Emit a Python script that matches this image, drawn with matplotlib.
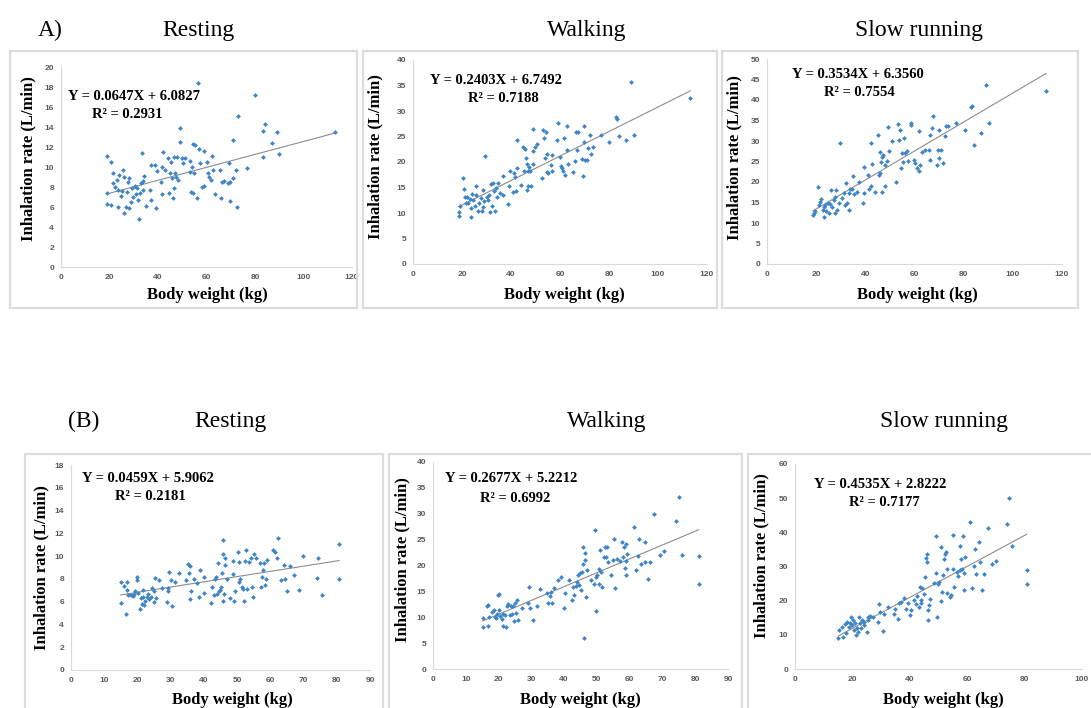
import numpy as np
import matplotlib
matplotlib.use("Agg")
import matplotlib.pyplot as plt
import matplotlib.patches as patches

plt.rcParams['font.family'] = ['Liberation Serif', 'DejaVu Serif']

W, H = 1091, 708

# ---- data (body weight kg, inhalation rate L/min) ----
# (A) Resting
a_rest_x = [19.1, 19.1, 19.1, 20.6, 20.6, 21.3, 21.6, 22.3, 23, 23.7, 23.7, 24, 24.6, 25, 25.7, 26, 26.1,
            26.8, 27.1, 27.5, 28, 28.2, 28.7, 29.2, 29.8, 30.5, 30.9, 31.2, 31.9, 32.3, 32.6, 33.1, 33.3,
            33.7, 34, 34.4, 35.1, 36.7, 37, 37.3, 38.8, 39.1, 39.5, 41.3, 41.6, 41.8, 42.2, 42.9, 44,
            44.6, 45, 45.3, 45.7, 46, 46.4, 46.4, 47, 47.5, 48, 48.4, 49.1, 49.1, 49.8, 50.2, 51.2, 53,
            53.2, 53.6, 54, 54.3, 54.6, 55, 55.3, 56, 56.3, 56.9, 57.4, 58.2, 59, 59, 60.1, 60.8, 61.2,
            61.8, 62.3, 62.6, 63.6, 65.6, 66, 66.4, 67.3, 68.9, 69.2, 69.5, 69.7, 71.1, 71.1, 72.2, 72.5,
            72.9, 76.6, 80.1, 83.1, 83.1, 84.2, 86.9, 89, 90, 113]
a_rest_y = [11.1, 7.4, 6.3, 10.5, 6.2, 9.4, 8.4, 8.0, 8.7, 7.7, 6.0, 9.2, 7.1, 7.6, 9.7, 9.0, 5.4,
            6.0, 7.5, 8.5, 5.9, 8.9, 6.5, 7.9, 7.0, 8.1, 7.3, 7.9, 6.7, 4.8, 7.4, 8.4, 11.4,
            7.7, 8.6, 9.1, 6.1, 7.7, 10.2, 6.7, 10.2, 5.9, 9.6, 8.5, 7.3, 10.0, 11.5, 9.7, 10.9,
            7.4, 9.4, 10.5, 8.9, 6.9, 7.9, 11.0, 9.4, 9.0, 11.0, 8.7, 13.9, 12.5, 10.9, 10.4, 10.9, 9.5,
            10.6, 7.5, 10.0, 12.3, 7.4, 9.4, 12.2, 6.9, 18.4, 11.8, 10.4, 8.0, 11.6, 8.1, 10.5, 9.4, 9.0,
            8.7, 11.1, 9.7, 7.3, 9.7, 6.9, 8.5, 8.6, 8.4, 10.4, 6.6, 8.5, 12.7, 8.9, 9.7, 6.0,
            15.1, 9.9, 17.2, 13.6, 11.0, 14.3, 12.4, 13.5, 11.3, 13.5]

# (A) Walking
a_walk_x = [18.7, 18.7, 19.1, 20.5, 20.9, 21.1, 21.6, 22.1, 22.5, 23.2, 23.5, 23.6, 24.1, 24.6, 25.2,
            25.6, 25.9, 26.6, 27, 27.6, 28, 28.4, 28.6, 28.9, 29.5, 30, 30.7, 31.1, 31.4, 31.8, 32.3,
            32.7, 33, 33.3, 33.8, 34.4, 34.8, 35.5, 36.6, 36.8, 38.9, 39.2, 39.6, 40.9, 41.2, 41.6, 42,
            42.3, 42.6, 44.1, 45, 45.3, 45.7, 46, 46.4, 46.7, 46.8, 47.1, 47.5, 47.7, 48, 48.8, 48.8,
            49.1, 49.8, 50.8, 52.5, 53.2, 53.5, 53.9, 54.3, 54.6, 54.8, 55.2, 56.2, 56.6, 56.8, 58.6,
            59.1, 60, 60.4, 61, 61.4, 61.8, 62.1, 62.8, 62.8, 63.4, 65.5, 66.2, 66.6, 67.1, 67.5, 68.9,
            69.3, 69.6, 69.6, 70.3, 71, 71.6, 72.3, 72.6, 73.3, 76.7, 80.2, 82.9, 83.2, 84.2, 87, 89.1,
            90, 113.2]
a_walk_y = [9.5, 10.1, 11.4, 16.8, 14.8, 13.2, 12.0, 13.2, 11.9, 12.7, 10.9, 9.2, 13.7, 12.5, 11.4,
            15.2, 13.5, 10.3, 11.9, 12.9, 10.3, 14.6, 11.2, 12.4, 21.2, 13.2, 12.5, 13.5, 10.1, 15.6, 11.4,
            15.9, 14.3, 10.3, 14.9, 13.2, 15.8, 13.9, 13.5, 17.3, 11.8, 15.3, 18.3, 14.2, 17.8, 17.1, 14.3,
            24.3, 18.8, 15.5, 23.0, 18.3, 22.5, 20.7, 14.6, 19.7, 18.3, 15.2, 19.1, 18.3, 15.2, 26.4, 22.2,
            19.7, 22.9, 23.5, 16.9, 26.3, 24.8, 20.7, 25.9, 18.1, 21.6, 17.8, 19.4, 21.4, 18.3, 24.4,
            27.7, 21.0, 19.2, 18.8, 18.3, 24.8, 17.5, 27.1, 22.4, 19.6, 18.0, 20.1, 25.8, 22.4, 25.9, 20.6,
            17.3, 27.1, 23.9, 20.3, 20.4, 22.7, 25.2, 21.6, 23.0, 25.2, 24.0, 28.8, 28.4, 25.1, 24.3, 35.6,
            25.3, 32.5]

# (A) Slow running
a_run_x = [18.7, 19, 19.7, 20.7, 21, 21.4, 22.1, 22.6, 23.1, 23.3, 23.7, 24.1, 24.8, 25.2, 25.6, 26,
           26.4, 27.1, 27.5, 27.8, 28, 28.6, 29.2, 29.7, 30.5, 31.2, 31.6, 32.1, 32.5, 33.2, 33.5, 33.9,
           34.6, 34.9, 35.3, 36.6, 37.3, 39, 39.3, 39.6, 41.1, 41.6, 42.2, 42.4, 42.7, 44.1, 45.2, 45.4,
           45.8, 46.1, 46.4, 46.6, 46.8, 47.2, 47.8, 48.1, 48.8, 49.1, 49.5, 50.8, 52.5, 53.4, 53.8, 54.2,
           54.6, 54.9, 55.3, 55.9, 56.3, 56.9, 57.4, 58.6, 58.7, 59.9, 60.3, 61, 61.7, 61.7, 62.4, 63,
           64.2, 65.8, 66.2, 66.4, 67.1, 67.4, 69.2, 69.6, 69.9, 70.1, 70.9, 71.5, 72.3, 72.8, 73.5, 76.9,
           80.4, 83.1, 83.4, 84.3, 87.1, 89.2, 90.2, 113.5]
a_run_y = [12.0, 12.4, 13.0, 18.7, 14.4, 15.2, 15.8, 13.2, 14.0, 11.4, 14.4, 13.0, 15.0, 12.4, 14.6, 18.0,
           14.0, 15.6, 16.3, 12.4, 18.0, 13.2, 14.8, 29.4, 16.1, 17.4, 14.4, 19.8, 14.8, 17.4, 13.2, 18.2,
           18.4, 21.5, 17.1, 17.6, 20.1, 14.8, 23.7, 17.4, 21.7, 18.2, 19.0, 29.6, 24.3, 17.6, 31.5, 21.7,
           27.4, 22.1, 24.8, 17.6, 26.1, 26.5, 19.1, 24.1, 25.2, 33.4, 27.5, 30.0, 19.9, 34.1, 30.2, 32.7,
           23.3, 27.0, 25.0, 30.7, 27.0, 27.6, 25.2, 34.5, 33.9, 25.4, 24.6, 23.3, 22.8, 32.5, 24.1, 27.4,
           27.8, 27.8, 31.5, 25.4, 33.1, 36.1, 24.1, 27.8, 32.8, 25.8, 27.8, 24.7, 31.1, 33.7, 33.7, 34.5,
           32.7, 38.2, 38.5, 29.0, 32.0, 43.7, 34.5, 42.3]

# (B) Resting
b_rest_x = [15, 15, 16.1, 16.6, 16.8, 16.8, 17.3, 18.1, 18.8, 19.1, 19.3, 19.8, 20, 20.3, 20.8, 21.1,
            21.3, 21.6, 21.8, 22.1, 22.4, 22.8, 23.3, 23.6, 24, 24.5, 24.9, 25.1, 25.4, 25.5, 26.6, 27.4,
            28.9, 29.1, 29.2, 29.4, 30.2, 30.4, 31.4, 32.4, 34.7, 35.1, 35.6, 35.7, 35.9, 36.1, 36.9, 37.9,
            38.4, 38.9, 39.9, 40.1, 42.1, 42.4, 42.9, 43.4, 43.7, 43.9, 44.1, 44.4, 44.9, 45.2, 45.4, 45.7,
            45.7, 45.9, 46.1, 46.4, 46.5, 46.9, 47.9, 48.7, 48.9, 49.2, 49.5, 50.3, 50.5, 50.7, 50.9, 51.6,
            51.9, 52.1, 52.4, 52.7, 52.9, 53.7, 54.1, 54.5, 54.9, 55.1, 55.7, 56.9, 57.2, 57.6, 57.9, 58.1,
            58.4, 58.6, 58.9, 60.9, 61.4, 62.1, 62.4, 63.1, 64.2, 64.4, 65.1, 65.8, 67.1, 68.6, 69.9, 73.9,
            74.4, 75.5, 80.7, 80.7]
b_rest_y = [7.75, 5.9, 7.4, 4.9, 7.75, 7.0, 6.6, 6.6, 6.5, 6.7, 6.9, 8.2, 7.9, 6.8, 5.4, 6.3,
            5.8, 7.0, 6.4, 5.7, 6.1, 6.4, 6.7, 6.2, 6.4, 7.2, 6.0, 6.9, 8.1, 6.3, 7.9, 7.2,
            6.0, 6.9, 7.2, 8.6, 7.9, 5.6, 7.75, 8.5, 7.9, 9.3, 8.5, 6.2, 9.1, 6.9, 8.0, 7.6,
            6.4, 8.8, 6.8, 8.2, 5.9, 7.3, 6.6, 8.0, 8.2, 6.7, 9.4, 6.9, 7.0, 7.3, 8.5, 11.4,
            10.2, 6.1, 6.7, 9.8, 9.2, 8.0, 6.3, 8.4, 9.6, 6.1, 6.9, 10.4, 9.5, 7.75, 8.0, 7.3,
            7.1, 6.1, 9.6, 10.5, 7.1, 9.5, 9.8, 7.3, 6.4, 10.2, 9.8, 9.4, 7.3, 8.2, 8.8, 9.4,
            7.5, 8.0, 9.7, 10.5, 10.4, 9.8, 11.6, 7.9, 9.2, 8.0, 6.9, 9.1, 8.3, 7.0, 10.0, 8.1,
            9.8, 6.6, 11.1, 8.0]

# (B) Walking
b_walk_x = [15.2, 15.2, 16.4, 16.7, 16.7, 17.2, 17.9, 18.7, 19, 19.3, 19.5, 19.7, 20, 20.2, 20.5, 21,
            21.3, 21.5, 22, 22.3, 22.5, 23, 23.5, 23.7, 24, 24.5, 24.8, 25, 25.4, 25.6, 25.8, 27.1, 29.1,
            29.3, 29.6, 30.4, 31.6, 32.5, 34.7, 35.2, 35.7, 35.9, 36.2, 36.9, 38.2, 39.2, 40, 40.3, 41.5,
            42.3, 42.6, 43.1, 43.6, 43.8, 44.1, 44.4, 44.8, 45.1, 45.5, 45.8, 45.8, 46.1, 46.3, 46.4, 46.6,
            47.1, 48.1, 49.1, 49.4, 49.6, 49.7, 50.1, 50.6, 50.7, 50.9, 51.2, 51.7, 52.1, 52.4, 52.7, 53,
            53.3, 54.3, 55, 55.3, 55.5, 56.2, 57.2, 57.8, 58, 58.2, 58.5, 58.8, 59, 59, 59.2, 61.4, 61.9,
            62.6, 62.9, 63.6, 64.6, 64.8, 65.6, 66.3, 67.4, 69.2, 70.5, 74, 74.9, 76.1, 81, 81]
b_walk_y = [8.2, 9.8, 12.1, 12.4, 8.3, 10.1, 11.1, 11.4, 10.1, 9.8, 10.6, 14.3, 14.5, 11.4, 10.3, 9.6,
            8.3, 10.7, 10.4, 8.2, 12.1, 12.6, 10.4, 12.2, 10.7, 12.1, 9.2, 12.7, 10.8, 13.3, 9.5, 11.7, 12.7,
            15.9, 11.7, 9.5, 12.1, 15.4, 14.6, 12.7, 14.1, 14.9, 12.7, 15.6, 17.2, 17.8, 11.7, 14.6, 17.2,
            13.3, 15.8, 14.3, 16.1, 16.9, 18.2, 16.3, 18.5, 15.3, 18.8, 23.6, 20.3, 6.0, 22.4, 21.0, 14.0,
            19.1, 17.2, 16.4, 26.8, 17.8, 11.2, 18.1, 19.4, 16.5, 22.9, 18.8, 15.9, 21.7, 23.6, 21.7, 23.6,
            20.7, 18.1, 21.0, 25.1, 15.6, 21.3, 20.9, 24.6, 21.7, 23.6, 19.6, 24.1, 20.8, 18.1, 22.3, 27.4, 19.2,
            21.8, 25.1, 20.2, 24.6, 20.6, 17.3, 20.7, 29.9, 22.0, 22.8, 28.6, 33.3, 22.1, 21.9, 16.4]

# (B) Slow running
b_run_x = [15.1, 15.3, 16.5, 16.8, 17.4, 17.8, 18.2, 18.8, 19.1, 19.5, 19.9, 20.2, 20.5, 21, 21.3, 21.6,
           21.9, 22.4, 22.7, 23.1, 23.5, 23.9, 24.2, 25, 25.3, 25.6, 26.1, 27.3, 29, 29.3, 29.5, 30.5, 31,
           32.4, 34.4, 34.9, 35.8, 36.4, 36.9, 38.1, 38.6, 39.2, 40.1, 40.3, 41.5, 42.3, 42.6, 43.2, 43.5,
           43.8, 44, 44.3, 44.9, 45.2, 45.8, 46, 46, 46.3, 46.3, 46.6, 47.2, 48.3, 49.2, 49.2, 49.4, 49.8,
           50.3, 50.8, 50.9, 51.1, 51.5, 51.9, 52.3, 52.6, 52.8, 53.1, 54, 54.2, 54.9, 55.1, 55.3, 56.3,
           56.8, 57.4, 57.6, 58, 58.3, 58.5, 58.8, 58.9, 59.1, 61.1, 61.6, 62.2, 62.6, 63.1, 64.2, 64.4,
           65.3, 65.9, 67.4, 68.5, 70.1, 73.9, 74.7, 75.6, 80.7, 80.7]
b_run_y = [9.1, 11.3, 12.3, 9.5, 13.3, 10.6, 13.8, 12.3, 13.5, 15.2, 12.8, 14.3, 11.3, 13.5, 9.9, 12.1,
           10.9, 15.2, 13.5, 12.1, 14.3, 12.8, 13.8, 10.9, 15.2, 14.3, 15.4, 15.1, 13.8, 19.0, 16.7, 11.0, 16.2,
           18.2, 16.2, 17.7, 14.5, 19.2, 19.6, 20.9, 17.7, 19.4, 15.7, 17.2, 20.1, 19.0, 21.3, 18.2, 24.0,
           20.1, 19.4, 23.6, 21.9, 26.8, 32.4, 31.4, 33.8, 17.2, 14.3, 18.7, 20.6, 25.2, 39.0, 28.2, 15.2, 24.8,
           25.5, 35.8, 19.9, 22.6, 27.5, 32.1, 33.8, 34.3, 29.4, 22.3, 21.1, 21.6, 39.2, 29.4, 24.0, 28.5,
           27.2, 36.1, 29.0, 32.1, 29.2, 39.0, 23.1, 28.0, 32.8, 43.1, 23.6, 30.1, 35.0, 27.8, 37.2, 31.4,
           23.1, 27.8, 41.4, 30.7, 31.7, 42.4, 50.1, 36.0, 29.1, 24.8]

# regression results printed in the panels
slopes = [0.0647, 0.2403, 0.3534, 0.0459, 0.2677, 0.4535]
intercepts = [6.0827, 6.7492, 6.3560, 5.9062, 5.2212, 2.8222]
r2_values = [0.2931, 0.7188, 0.7554, 0.2181, 0.6992, 0.7177]

titles_top = ["Resting", "Walking", "Slow running"]
titles_bottom = ["Resting", "Walking", "Slow running"]


def fx(px):
    return px / W


def fy(py):
    return 1 - py / H


fig = plt.figure(figsize=(W / 100, H / 100), dpi=100)

# panel layout in pixels: plot area (l, t, r, b), frame (l, t, r, b), ylabel pos, xlabel pos, eq pos
panels = [
    dict(x=a_rest_x, y=a_rest_y, area=(61, 67, 352, 267), frame=(10, 51, 357, 308),
         ylim=20, ystep=2, xlim=120, xstep=20, ylab=(28, 159), xlab=(207, 295),
         eq1=(68, 97), eq2=(92, 115)),
    dict(x=a_walk_x, y=a_walk_y, area=(413, 60, 707, 264), frame=(363, 51, 717, 308),
         ylim=40, ystep=5, xlim=120, xstep=20, ylab=(375, 157), xlab=(564, 295),
         eq1=(430, 80), eq2=(468, 99)),
    dict(x=a_run_x, y=a_run_y, area=(767, 59, 1062, 264), frame=(722, 51, 1078, 308),
         ylim=50, ystep=5, xlim=120, xstep=20, ylab=(734, 158), xlab=(917, 295),
         eq1=(792, 75), eq2=(824, 93)),
    dict(x=b_rest_x, y=b_rest_y, area=(71, 465, 370, 670), frame=(25, 454, 383, 712),
         ylim=18, ystep=2, xlim=90, xstep=10, ylab=(41, 568), xlab=(232, 700),
         eq1=(82, 479), eq2=(115, 497)),
    dict(x=b_walk_x, y=b_walk_y, area=(433, 462, 728, 669), frame=(389, 454, 742, 712),
         ylim=40, ystep=5, xlim=90, xstep=10, ylab=(402, 560), xlab=(580, 700),
         eq1=(445, 479), eq2=(480, 498)),
    dict(x=b_run_x, y=b_run_y, area=(795, 464, 1082, 669), frame=(748, 454, 1095, 712),
         ylim=60, ystep=10, xlim=100, xstep=20, ylab=(761, 556), xlab=(943, 700),
         eq1=(814, 484), eq2=(849, 503)),
]

for i, p in enumerate(panels):
    # light grey frame around each chart
    l, t, r, b = p['frame']
    fig.add_artist(patches.Rectangle((fx(l), fy(b)), fx(r - l), (b - t) / H,
                                     transform=fig.transFigure, fill=False,
                                     edgecolor='#dcdcdc', linewidth=1.6))

    l, t, r, b = p['area']
    ax = fig.add_axes([fx(l), fy(b), fx(r - l), (b - t) / H])
    x = np.array(p['x'])
    y = np.array(p['y'])
    ax.scatter(x, y, marker='D', s=6, color='#3d85c6', linewidths=0, zorder=3)

    # trend line from the printed equation
    xl = np.array([x.min(), x.max()])
    ax.plot(xl, slopes[i] * xl + intercepts[i], color='#8c8c8c', linewidth=0.8, zorder=2)

    ax.set_xlim(0, p['xlim'])
    ax.set_ylim(0, p['ylim'])
    ax.set_xticks(np.arange(0, p['xlim'] + 1, p['xstep']))
    ax.set_yticks(np.arange(0, p['ylim'] + 1, p['ystep']))
    ax.tick_params(length=0, labelsize=6, labelcolor='#595959', pad=5)
    for lab in ax.get_xticklabels() + ax.get_yticklabels():
        lab.set_fontfamily('Liberation Sans')
        lab.set_fontweight('bold')
    for s in ['top', 'right']:
        ax.spines[s].set_visible(False)
    for s in ['left', 'bottom']:
        ax.spines[s].set_color('#d9d9d9')
        ax.spines[s].set_linewidth(0.8)
    ax.patch.set_alpha(0)

    fig.text(fx(p['ylab'][0]), fy(p['ylab'][1]), "Inhalation rate (L/min)", rotation=90,
             ha='center', va='center', fontsize=12, fontweight='bold')
    fig.text(fx(p['xlab'][0]), fy(p['xlab'][1]), "Body weight (kg)",
             ha='center', va='center', fontsize=12, fontweight='bold')
    fig.text(fx(p['eq1'][0]), fy(p['eq1'][1]), f"Y = {slopes[i]:.4f}X + {intercepts[i]:.4f}",
             ha='left', va='center', fontsize=10.5, fontweight='bold')
    fig.text(fx(p['eq2'][0]), fy(p['eq2'][1]), f"R\u00b2 = {r2_values[i]:.4f}",
             ha='left', va='center', fontsize=10.5, fontweight='bold')

# row headings
fig.text(fx(38), fy(36), "A)", fontsize=17, va='baseline')
for cx, name in zip([198, 587, 919], titles_top):
    fig.text(fx(cx), fy(36), name, fontsize=17, ha='center', va='baseline')
fig.text(fx(68), fy(427), "(B)", fontsize=17, va='baseline')
for cx, name in zip([230, 607, 944], titles_bottom):
    fig.text(fx(cx), fy(427), name, fontsize=17, ha='center', va='baseline')

fig.savefig("out.png", dpi=100)
